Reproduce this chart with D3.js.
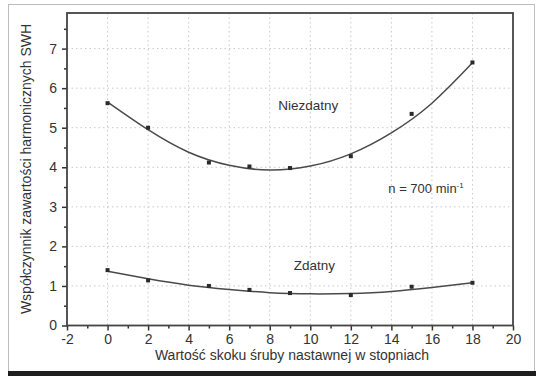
<!DOCTYPE html>
<meta charset="utf-8">
<style>
  body { margin: 0; background: #fff; }
  text { font-family: Arial, "Liberation Sans", sans-serif; fill: #333; }
</style>
<script src="https://d3js.org/d3.v7.min.js"></script>
<div id="chart"></div>
<script>

// measured points
var xVals = [0, 2, 5, 7, 9, 12, 15, 18];
var niezdatny = [5.62, 5.0, 4.12, 4.02, 3.98, 4.28, 5.35, 6.65];
var zdatny = [1.4, 1.14, 1.0, 0.9, 0.82, 0.77, 0.98, 1.08];

// fitted curves
var fitX = [0, 2, 4, 6, 8, 10, 12, 14, 16, 18];
var fitNiezdatny = [5.65, 4.95, 4.38, 4.05, 3.93, 4.03, 4.34, 4.87, 5.62, 6.64];
var fitZdatny = [1.37, 1.18, 1.02, 0.91, 0.83, 0.8, 0.81, 0.86, 0.96, 1.08];

var xTicks = [-2, 0, 2, 4, 6, 8, 10, 12, 14, 16, 18, 20];
var yTicks = [0, 1, 2, 3, 4, 5, 6, 7];

var W = 536, H = 376;
var margin = {top: 13, right: 23, bottom: 50.5, left: 67},
    width = W - margin.left - margin.right,
    height = H - margin.top - margin.bottom;

var svg = d3.select("#chart").append("svg")
    .attr("width", W)
    .attr("height", H);

// outer frame
svg.append("rect")
    .attr("x", 8.5).attr("y", 4.5)
    .attr("width", 526).attr("height", 367)
    .attr("fill", "none")
    .attr("stroke", "#bdbdbd");
svg.append("rect")
    .attr("x", 8).attr("y", 371)
    .attr("width", 528).attr("height", 5)
    .attr("fill", "#1e1e1e");

var g = svg.append("g")
    .attr("transform", "translate(" + margin.left + "," + margin.top + ")");

var x = d3.scaleLinear().domain([-2, 20]).range([0, width]);
var y = d3.scaleLinear().domain([0, 7.9]).range([height, 0]);

// grid
g.selectAll(".vgrid")
    .data(xTicks.filter(function(d) { return d > -2 && d < 20; }))
    .enter().append("line")
    .attr("x1", function(d) { return x(d); })
    .attr("x2", function(d) { return x(d); })
    .attr("y1", 0).attr("y2", height)
    .attr("stroke", "#c8c8c8")
    .attr("stroke-dasharray", "1.5,3");
g.selectAll(".hgrid")
    .data(yTicks.filter(function(d) { return d > 0; }))
    .enter().append("line")
    .attr("y1", function(d) { return y(d); })
    .attr("y2", function(d) { return y(d); })
    .attr("x1", 0).attr("x2", width)
    .attr("stroke", "#c8c8c8")
    .attr("stroke-dasharray", "1.5,3");

// minor ticks
g.append("g")
    .attr("transform", "translate(0," + height + ")")
    .call(d3.axisBottom(x).tickValues(d3.range(-1, 20, 2)).tickSize(3).tickFormat(""))
    .call(function(a) { a.select(".domain").remove(); a.selectAll("line").attr("stroke", "#333").attr("stroke-width", 1.5); });
g.append("g")
    .call(d3.axisLeft(y).tickValues(d3.range(0.5, 7.9, 1)).tickSize(3).tickFormat(""))
    .call(function(a) { a.select(".domain").remove(); a.selectAll("line").attr("stroke", "#333").attr("stroke-width", 1.5); });

// major axes (plain hyphen for minus, as in the original)
var fmt = function(d) { return String(d); };
var xAxis = g.append("g")
    .attr("transform", "translate(0," + height + ")")
    .call(d3.axisBottom(x).tickValues(xTicks).tickSize(5).tickPadding(4).tickSizeOuter(0).tickFormat(fmt));
var yAxis = g.append("g")
    .call(d3.axisLeft(y).tickValues(yTicks).tickSize(5).tickPadding(5).tickSizeOuter(0).tickFormat(fmt));
[xAxis, yAxis].forEach(function(a) {
  a.select(".domain").remove();
  a.selectAll("line").attr("stroke", "#333").attr("stroke-width", 1.5);
  a.selectAll("text").style("font-size", "14px").attr("fill", "#333");
});

// plot box
g.append("rect")
    .attr("width", width).attr("height", height)
    .attr("fill", "none")
    .attr("stroke", "#444")
    .attr("stroke-width", 1.8);

// fit curves
var line = d3.line()
    .x(function(d) { return x(d[0]); })
    .y(function(d) { return y(d[1]); })
    .curve(d3.curveNatural);

[fitNiezdatny, fitZdatny].forEach(function(s) {
  g.append("path")
      .datum(fitX.map(function(v, i) { return [v, s[i]]; }))
      .attr("d", line)
      .attr("fill", "none")
      .attr("stroke", "#4a4a4a")
      .attr("stroke-width", 1.5);
});

// points
[niezdatny, zdatny].forEach(function(s) {
  g.selectAll(null)
      .data(xVals.map(function(v, i) { return [v, s[i]]; }))
      .enter().append("rect")
      .attr("x", function(d) { return x(d[0]) - 2; })
      .attr("y", function(d) { return y(d[1]) - 2; })
      .attr("width", 4).attr("height", 4)
      .attr("fill", "#2a2a2a");
});

// labels inside
g.append("text").attr("x", x(9.9)).attr("y", y(5.45))
    .style("font-size", "13.5px").attr("text-anchor", "middle").text("Niezdatny");
g.append("text").attr("x", x(10.2)).attr("y", y(1.4))
    .style("font-size", "13.5px").attr("text-anchor", "middle").text("Zdatny");
var n = g.append("text").attr("x", x(13.85)).attr("y", y(3.34))
    .style("font-size", "13px");
n.append("tspan").text("n = 700 min");
n.append("tspan").attr("dy", -5).style("font-size", "8px").text("-1");

// axis titles
svg.append("text")
    .attr("x", margin.left + width / 2 + 2).attr("y", 360)
    .attr("text-anchor", "middle")
    .style("font-size", "14px")
    .text("Wartość skoku śruby nastawnej w stopniach");
svg.append("text")
    .attr("transform", "translate(31," + (margin.top + 156) + ") rotate(-90)")
    .attr("text-anchor", "middle")
    .style("font-size", "14px")
    .text("Współczynnik zawartości harmonicznych SWH");

</script>
